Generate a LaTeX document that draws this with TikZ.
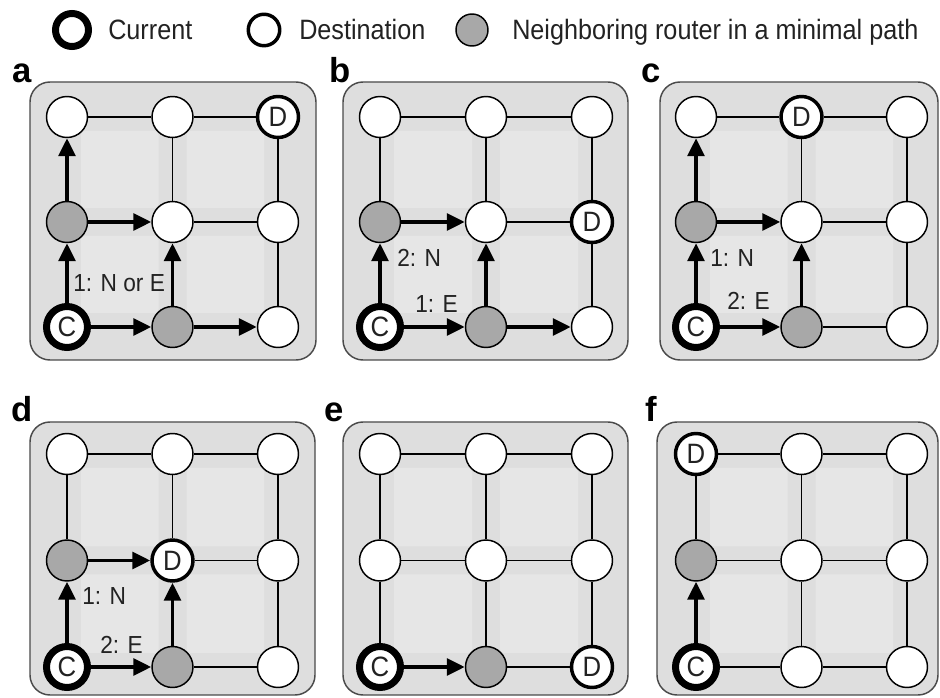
\documentclass[tikz,border=0pt]{standalone}
\usepackage{fontspec}
\setmainfont{Liberation Sans}
\newfontfamily\legfont{Liberation Sans}[FakeStretch=0.9]
\newfontfamily\labfont{Liberation Sans}[FakeStretch=0.92]
\usetikzlibrary{arrows.meta}
\definecolor{nbgray}{HTML}{A8A8A8}
\definecolor{boxfill}{HTML}{DEDEDE}
\definecolor{cellfill}{HTML}{E6E6E6}
\definecolor{boxline}{HTML}{4A4A4A}
\definecolor{txt}{HTML}{222222}
\begin{document}
\begin{tikzpicture}[x=0.75pt,y=-0.75pt,
  rt/.style={circle,draw=black,line width=1.1pt,fill=white,minimum size=30.75pt,inner sep=0pt,
    text=txt,font=\labfont\fontsize{21}{21}\selectfont},
  pl/.style={rt},
  nb/.style={rt,fill=nbgray},
  cur/.style={rt,line width=5.25pt},
  dst/.style={rt,line width=2.6pt},
  ln/.style={line width=1.1pt},
  ar/.style={line width=2.8pt,-{Triangle[length=13.5pt,width=12.5pt]}},
  box/.style={draw=boxline,line width=1.1pt,fill=boxfill,rounded corners=15pt},
  cell/.style={fill=cellfill,rounded corners=3pt},
  lab/.style={anchor=base west,inner sep=0pt,text=txt,font=\labfont\fontsize{18.5}{18.5}\selectfont},
  plet/.style={anchor=base west,inner sep=0pt,font=\fontsize{26}{26}\selectfont\bfseries},
  legtxt/.style={anchor=base west,inner sep=0pt,text=txt,font=\legfont\fontsize{21}{21}\selectfont}]
\useasboundingbox (0,0) rectangle (940,698);
\fill[white] (0,0) rectangle (940,698);

% legend
\node[cur,minimum size=24.75pt] (lc) at (72,30) {};
\node[legtxt] (lct) at (108,40) {Current};
\node[dst,minimum size=23.6pt] (ld) at (264,30) {};
\node[legtxt] (ldt) at (299,40) {Destination};
\node[nb,minimum size=24pt] (ln) at (472,30) {};
\node[legtxt] (lnt) at (512,40) {Neighboring router in a minimal path};

% panel boxes
\draw[box] (30,82) rectangle (316,360);
\draw[box] (343,82) rectangle (628,360);
\draw[box] (660,82) rectangle (938,360);
\draw[box] (30,422) rectangle (315,695);
\draw[box] (343,422) rectangle (628,695);
\draw[box] (657,422) rectangle (938,695);

% lighter cells
\foreach \x/\y/\dx/\dy in {67/117/105.5/105, 380/117/106/105, 696/117/105.5/105,
                           67/454/105.5/106.5, 380/454/106/106.5, 696/454/105.5/106.5}{
  \foreach \i in {0,1}{
    \foreach \j in {0,1}{
      \fill[cell] ({\x+\i*\dx+14},{\y+\j*\dy+14}) rectangle ({\x+(\i+1)*\dx-14},{\y+(\j+1)*\dy-14});
    }
  }
}

% panel letters
\node[plet] (pa) at (12,83) {a};
\node[plet] (pb) at (329,83) {b};
\node[plet] (pc) at (641,83) {c};
\node[plet] (pd) at (11,422) {d};
\node[plet] (pe) at (324,422) {e};
\node[plet] (pf) at (645,422) {f};

% nodes, panel a
\foreach \i/\j/\s/\t in {0/0/cur/C,1/0/nb/{},2/0/pl/{},0/1/nb/{},1/1/pl/{},2/1/pl/{},0/2/pl/{},1/2/pl/{},2/2/dst/D}
  \node[\s] (a\i\j) at ({67+105.5*\i},{327-105*\j}) {\t};
% panel b
\foreach \i/\j/\s/\t in {0/0/cur/C,1/0/nb/{},2/0/pl/{},0/1/nb/{},1/1/pl/{},2/1/dst/D,0/2/pl/{},1/2/pl/{},2/2/pl/{}}
  \node[\s] (b\i\j) at ({380+106*\i},{327-105*\j}) {\t};
% panel c
\foreach \i/\j/\s/\t in {0/0/cur/C,1/0/nb/{},2/0/pl/{},0/1/nb/{},1/1/pl/{},2/1/pl/{},0/2/pl/{},1/2/dst/D,2/2/pl/{}}
  \node[\s] (c\i\j) at ({696+105.5*\i},{327-105*\j}) {\t};
% panel d
\foreach \i/\j/\s/\t in {0/0/cur/C,1/0/nb/{},2/0/pl/{},0/1/nb/{},1/1/dst/D,2/1/pl/{},0/2/pl/{},1/2/pl/{},2/2/pl/{}}
  \node[\s] (d\i\j) at ({67+105.5*\i},{667-106.5*\j}) {\t};
% panel e
\foreach \i/\j/\s/\t in {0/0/cur/C,1/0/nb/{},2/0/dst/D,0/1/pl/{},1/1/pl/{},2/1/pl/{},0/2/pl/{},1/2/pl/{},2/2/pl/{}}
  \node[\s] (e\i\j) at ({380+106*\i},{667-106.5*\j}) {\t};
% panel f
\foreach \i/\j/\s/\t in {0/0/cur/C,1/0/pl/{},2/0/pl/{},0/1/nb/{},1/1/pl/{},2/1/pl/{},0/2/dst/D,1/2/pl/{},2/2/pl/{}}
  \node[\s] (f\i\j) at ({696+105.5*\i},{667-106.5*\j}) {\t};

% plain links
\foreach \u/\v in {a02/a12,a12/a22,a12/a11,a22/a21,a11/a21,a21/a20,
                   b01/b02,b02/b12,b12/b22,b12/b11,b22/b21,b11/b21,b21/b20,
                   c10/c20,c02/c12,c12/c22,c12/c11,c22/c21,c11/c21,c21/c20,
                   d01/d02,d02/d12,d12/d22,d12/d11,d11/d21,d22/d21,d21/d20,d10/d20,
                   e10/e20,e00/e01,e10/e11,e20/e21,e01/e11,e11/e21,e01/e02,e11/e12,e21/e22,e02/e12,e12/e22,
                   f00/f10,f10/f20,f01/f11,f11/f21,f02/f12,f12/f22,f01/f02,f10/f11,f11/f12,f20/f21,f21/f22}
  \draw[ln] (\u) -- (\v);

% arrows
\foreach \u/\v in {a00/a10,a10/a20,a00/a01,a01/a02,a01/a11,a10/a11,
                   b00/b01,b00/b10,b10/b20,b10/b11,b01/b11,
                   c00/c01,c01/c02,c01/c11,c00/c10,c10/c11,
                   d00/d01,d01/d11,d00/d10,d10/d11,
                   e00/e10,
                   f00/f01}
  \draw[ar] (\u) -- (\v);

% labels
\node[lab] (la1) at (73,292) {1: N or E};
\node[lab] (lb2) at (397,267) {2: N};
\node[lab] (lb1) at (415,313) {1: E};
\node[lab] (lc1) at (710,267) {1: N};
\node[lab] (lc2) at (727,310) {2: E};
\node[lab] (ld1) at (82,605) {1: N};
\node[lab] (ld2) at (100,653) {2: E};
\end{tikzpicture}
\end{document}
